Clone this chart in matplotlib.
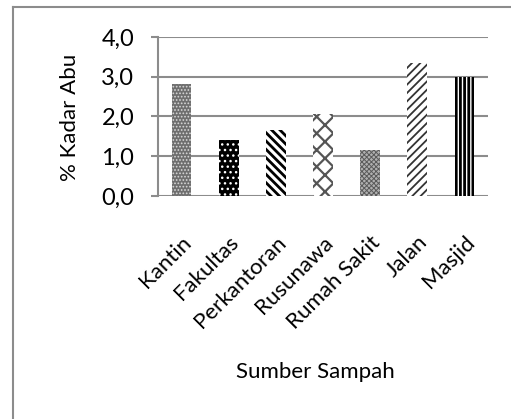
import matplotlib
matplotlib.use('Agg')
import matplotlib.pyplot as plt
from matplotlib.lines import Line2D
from matplotlib.ticker import FuncFormatter

plt.rcParams['font.family'] = ['Lato', 'DejaVu Sans']

# data
sources = ['Kantin', 'Fakultas', 'Perkantoran', 'Rusunawa', 'Rumah Sakit', 'Jalan', 'Masjid']
ash = [2.81, 1.41, 1.66, 2.06, 1.16, 3.34, 2.99]

# (face, hatch colour, hatch, hatch width) per bar
styles = [('#6e6e6e', '#d8d8d8', '.....', 0.8),
          ('black', 'white', '...', 1.0),
          ('white', 'black', '\\\\\\\\', 2.0),
          ('white', '#555555', 'xx', 1.6),
          ('#b0b0b0', '#5a5a5a', 'xxxxxxx', 0.7),
          ('white', '#333333', '////', 1.3),
          ('white', 'black', '||||', 2.0)]

fig = plt.figure(figsize=(5.11, 4.19), dpi=100)
ax = fig.add_axes([0.309, 0.532, 0.646, 0.380])

x = range(len(sources))
for i, v in enumerate(ash):
    fc, hc, h, hw = styles[i]
    with plt.rc_context({'hatch.linewidth': hw}):
        ax.bar(i, v, width=0.42, color=fc, edgecolor=hc, hatch=h, linewidth=0, zorder=3)

ax.set_ylim(0, 4)
ax.set_xlim(-0.5, len(sources) - 0.5)
ax.set_yticks([0, 1, 2, 3, 4])
ax.yaxis.set_major_formatter(FuncFormatter(lambda v, p: f'{v:.1f}'.replace('.', ',')))
ax.grid(axis='y', color='#8c8c8c', linewidth=1.5, zorder=0)
ax.set_axisbelow(True)
for s in ['top', 'right', 'bottom']:
    ax.spines[s].set_visible(False)
ax.spines['left'].set_color('#8c8c8c')
ax.spines['left'].set_linewidth(1.5)
ax.tick_params(axis='y', length=5, width=1.5, color='#8c8c8c', labelsize=17, pad=12)
ax.tick_params(axis='x', length=0, labelsize=16, pad=26)
ax.set_xticks(list(x))
ax.set_xticklabels(sources, rotation=45, ha='right', rotation_mode='anchor')
ax.set_ylabel('% Kadar Abu', fontsize=16)
ax.yaxis.set_label_coords(-0.235, 0.494)
ax.set_xlabel('Sumber Sampah', fontsize=16)
ax.xaxis.set_label_coords(0.476, -1.044)

# chart border (top and left edges visible)
fig.add_artist(Line2D([0.025, 1.0], [0.983, 0.983], color='#8c8c8c', lw=1.5))
fig.add_artist(Line2D([0.025, 0.025], [0.0, 0.983], color='#8c8c8c', lw=1.5))

fig.savefig('out.png', dpi=100)
